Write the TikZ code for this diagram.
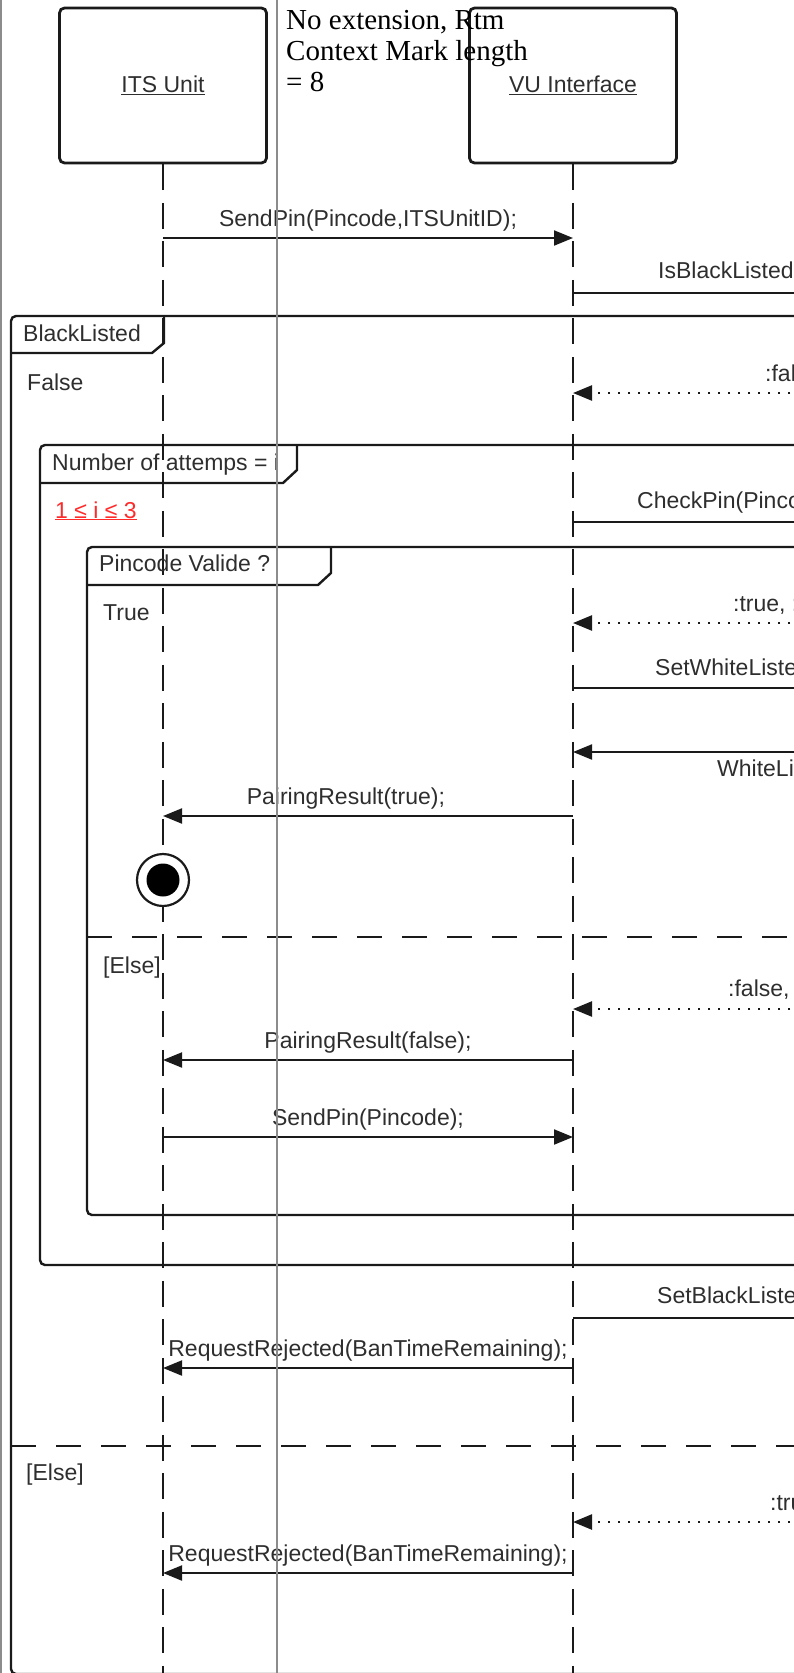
\documentclass[tikz,border=0pt]{standalone}
\usepackage{fontspec}
\setmainfont{Liberation Sans}
\newfontfamily\notefont{Liberation Serif}
\usepackage{xcolor}
\usepackage{tikz}
\usetikzlibrary{arrows.meta,positioning,calc}
\definecolor{inkgray}{HTML}{2E2E2E}
\definecolor{linegray}{HTML}{1A1A1A}
\definecolor{guidegray}{HTML}{8C8C8C}
\definecolor{rangered}{HTML}{FF2A2A}

\begin{document}
\begin{tikzpicture}[x=1pt, y=-1pt,
  font=\fontsize{23}{27}\selectfont,
  head/.style={draw=linegray, line width=2.8pt, rounded corners=5pt, minimum width=207pt, minimum height=155pt, text=inkgray},
  lifeline/.style={draw=linegray, line width=2.2pt, dash pattern=on 26pt off 12.5pt},
  msg/.style={draw=linegray, line width=2pt, -{Triangle[length=19pt,width=15pt]}},
  reply/.style={msg, line width=2.4pt, dash pattern=on 2.4pt off 7.6pt},
  frame/.style={draw=linegray, line width=2.4pt, rounded corners=5pt},
  tab/.style={draw=linegray, line width=2.4pt},
  split/.style={draw=linegray, line width=2.4pt, dash pattern=on 25pt off 20pt},
  lbl/.style={anchor=base, inner sep=0pt, text=inkgray},
  guide/.style={draw=guidegray, line width=1.2pt}]
\useasboundingbox (0,0) rectangle (794,1673);
\clip (0,0) rectangle (794,1673);
\coordinate (bottom) at (0,1673);
\coordinate (ext) at (860,0);

\node[head] (its) at (163,85.5) {\underline{ITS Unit}};
\node[head] (vu) at (573,85.5) {\underline{VU Interface}};
\draw[lifeline] (its.south) -- (its.south |- bottom);
\draw[lifeline] (vu.south) -- (vu.south |- bottom);
\node[anchor=north west, inner sep=0pt, align=left, text=black, font=\notefont\fontsize{29}{31}\selectfont] (note) at (286,10) {No extension, Rtm\\Context Mark length\\= 8};

\draw[frame] (ext |- 0,316) -- (11,316) -- (11,1674) -- (ext |- 0,1674);
\draw[tab] (164,316) -- (164,343) -- (152,353) -- (11,353);
\node[lbl, anchor=base west] (blacklisted) at (23,341) {BlackListed};
\node[lbl, anchor=base west] (false) at (27,390) {False};
\draw[frame] (ext |- 0,445) -- (40,445) -- (40,1265) -- (ext |- 0,1265);
\draw[tab] (297,445) -- (297,470) -- (283,483) -- (40,483);
\node[lbl, anchor=base west] (attempts) at (52,470) {Number of attemps = i};
\node[lbl, anchor=base west, text=rangered] (range) at (55,518) {\underline{1 ≤ i ≤ 3}};
\draw[frame] (ext |- 0,547) -- (87,547) -- (87,1215) -- (ext |- 0,1215);
\draw[tab] (331,547) -- (331,573) -- (318,585) -- (87,585);
\node[lbl, anchor=base west] (valide) at (99,571) {Pincode Valide ?};
\node[lbl, anchor=base west] (true) at (103,620) {True};
\draw[split] (87,937) -- (ext |- 0,937);
\node[lbl, anchor=base west] (elsein) at (103,973) {[Else]};
\draw[split] (11,1446) -- (ext |- 0,1446);
\node[lbl, anchor=base west] (elseout) at (26,1480) {[Else]};

\draw[msg] (its |- 0,238) -- node[lbl, yshift=12pt] {SendPin(Pincode,ITSUnitID);} (vu |- 0,238);
\draw[msg] (vu |- 0,293) -- (ext |- 0,293);
\node[lbl, anchor=base west] (isbl) at (658,278) {IsBlackListed};
\draw[reply] (ext |- 0,393) -- (vu |- 0,393);
\node[lbl, anchor=base west] (retfalse) at (765,381) {:false};
\draw[msg] (vu |- 0,522) -- (ext |- 0,522);
\node[lbl, anchor=base west] (checkpin) at (637,508) {CheckPin(Pincode};
\draw[reply] (ext |- 0,623) -- (vu |- 0,623);
\node[lbl, anchor=base west] (rettrue) at (733,611) {:true, :};
\draw[msg] (vu |- 0,688) -- (ext |- 0,688);
\node[lbl, anchor=base west] (setwhite) at (655,675) {SetWhiteListed};
\draw[msg] (ext |- 0,752) -- (vu |- 0,752);
\node[lbl, anchor=base west] (white) at (717,776) {WhiteListed};
\draw[msg] (vu |- 0,816) -- node[lbl, pos=0.554, yshift=12pt] {PairingResult(true);} (its |- 0,816);
\node[circle, draw=linegray, line width=2.2pt, fill=white, minimum size=52pt, inner sep=0pt] (endring) at (its |- 0,880) {};
\node[circle, fill=black, minimum size=33pt, inner sep=0pt] (enddot) at (endring) {};
\draw[reply] (ext |- 0,1009) -- (vu |- 0,1009);
\node[lbl, anchor=base west] (retfalse2) at (728,996) {:false,};
\draw[msg] (vu |- 0,1060) -- node[lbl, yshift=12pt] {PairingResult(false);} (its |- 0,1060);
\draw[msg] (its |- 0,1137) -- node[lbl, yshift=12pt] {SendPin(Pincode);} (vu |- 0,1137);
\draw[msg] (vu |- 0,1318) -- (ext |- 0,1318);
\node[lbl, anchor=base west] (setblack) at (657,1303) {SetBlackListed};
\draw[msg] (vu |- 0,1368) -- node[lbl, yshift=12pt] {RequestRejected(BanTimeRemaining);} (its |- 0,1368);
\draw[reply] (ext |- 0,1522) -- (vu |- 0,1522);
\node[lbl, anchor=base west] (rettrue2) at (770,1510) {:true};
\draw[msg] (vu |- 0,1573) -- node[lbl, yshift=12pt] {RequestRejected(BanTimeRemaining);} (its |- 0,1573);

\draw[guide] (277,0) -- (277,1673);
\draw[guide] (1,0) -- (1,1673);
\end{tikzpicture}
\end{document}
